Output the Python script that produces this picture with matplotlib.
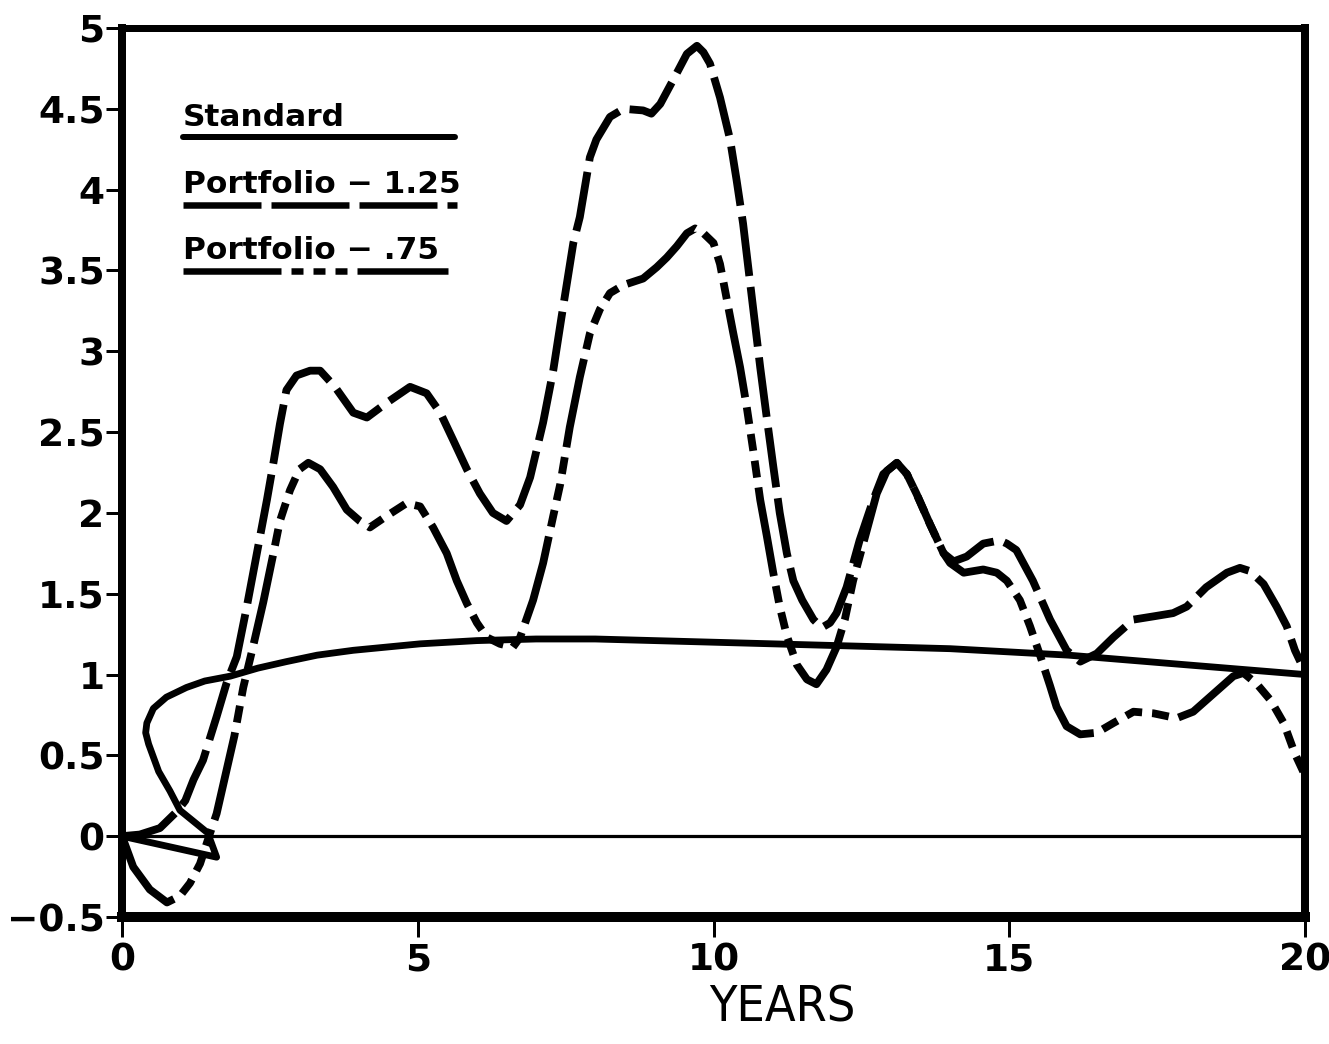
import numpy as np
import matplotlib
matplotlib.use("Agg")
import matplotlib.pyplot as plt
from matplotlib import font_manager

plt.rcParams['lines.scale_dashes'] = False

# ---------------- data ----------------
xticks = [0, 5, 10, 15, 20]
xtick_labels = ['0', '5', '10', '15', '20']
yticks = [-0.5, 0, 0.5, 1, 1.5, 2, 2.5, 3, 3.5, 4, 4.5, 5]
ytick_labels = ['\u22120.5', '0', '0.5', '1', '1.5', '2', '2.5', '3', '3.5', '4', '4.5', '5']

std_x = [0.0, 1.6, 1.45, 0.98, 0.81, 0.62, 0.53, 0.45, 0.40, 0.42, 0.53, 0.75,
         1.09, 1.4, 1.83, 2.3, 2.78, 3.3, 3.91, 5.04, 6.0, 7.0, 8.0, 9.0, 10.0,
         11.0, 12.0, 13.0, 14.0, 15.0, 16.0, 17.0, 18.0, 19.0, 20.0]
std_y = [0.0, -0.13, 0.02, 0.16, 0.28, 0.40, 0.49, 0.57, 0.64, 0.70, 0.79, 0.86,
         0.92, 0.96, 0.99, 1.04, 1.08, 1.12, 1.15, 1.19, 1.21, 1.22, 1.22, 1.21, 1.20,
         1.19, 1.18, 1.17, 1.16, 1.14, 1.12, 1.09, 1.06, 1.03, 1.00]

p125_x = [0.0, 0.3, 0.64, 0.92, 1.07, 1.21, 1.37, 1.6, 1.77, 1.94, 2.11, 2.28,
          2.45, 2.56, 2.67, 2.78, 2.95, 3.18, 3.35, 3.6, 3.91, 4.14, 4.47, 4.87,
          5.15, 5.38, 5.6, 5.83, 6.05, 6.27, 6.5, 6.73, 6.9, 7.12, 7.29, 7.43,
          7.63, 7.74, 7.91, 8.02, 8.25, 8.48, 8.81, 8.95, 9.1, 9.32, 9.55, 9.72,
          9.83, 9.94, 10.11, 10.28, 10.39, 10.5, 10.62, 10.79, 10.9, 11.01, 11.12,
          11.24, 11.35, 11.5, 11.69, 11.83, 11.97, 12.08, 12.25, 12.47, 12.7,
          12.87, 13.1, 13.27, 13.43, 13.66, 13.89, 14.06, 14.28, 14.56, 14.84,
          14.96, 15.12, 15.4, 15.69, 15.97, 16.2, 16.48, 16.76, 17.1, 17.44,
          17.77, 18.0, 18.33, 18.68, 18.9, 19.07, 19.3, 19.52, 19.69, 19.83, 19.92]
p125_y = [0.0, 0.01, 0.05, 0.15, 0.22, 0.35, 0.47, 0.74, 0.95, 1.11, 1.42, 1.75,
          2.08, 2.31, 2.55, 2.76, 2.85, 2.88, 2.88, 2.78, 2.62, 2.59, 2.68, 2.78,
          2.74, 2.62, 2.45, 2.27, 2.12, 2.0, 1.95, 2.05, 2.22, 2.56, 2.88, 3.21,
          3.67, 3.83, 4.2, 4.31, 4.45, 4.5, 4.49, 4.47, 4.53, 4.68, 4.84, 4.89,
          4.85, 4.78, 4.57, 4.31, 4.06, 3.79, 3.42, 2.9, 2.59, 2.29, 2.0,
          1.75, 1.58, 1.46, 1.34, 1.29, 1.32, 1.38, 1.54, 1.83, 2.08,
          2.24, 2.31, 2.24, 2.12, 1.93, 1.75, 1.70, 1.73, 1.81, 1.83,
          1.81, 1.77, 1.58, 1.34, 1.15, 1.08, 1.13, 1.23, 1.34, 1.36,
          1.38, 1.42, 1.54, 1.63, 1.66, 1.64, 1.56, 1.42, 1.30, 1.15, 1.08]

p075_x = [0.0, 0.19, 0.47, 0.76, 0.98, 1.15, 1.32, 1.49, 1.6, 1.75, 1.9, 2.05,
          2.22, 2.39, 2.56, 2.67, 2.84, 3.0, 3.15, 3.35, 3.57, 3.8, 4.02, 4.19,
          4.47, 4.81, 5.04, 5.26, 5.49, 5.66, 5.83, 6.0, 6.17, 6.39, 6.61, 6.73,
          6.95, 7.12, 7.29, 7.41, 7.57, 7.74, 7.91, 8.08, 8.25, 8.48, 8.81, 9.04,
          9.21, 9.38, 9.55, 9.69, 9.83, 10.0, 10.11, 10.22, 10.33, 10.45, 10.56,
          10.67, 10.79, 10.9, 11.01, 11.12, 11.24, 11.41, 11.58, 11.74, 11.91,
          12.08, 12.22, 12.36, 12.59, 12.76, 12.93, 13.1, 13.27, 13.43, 13.66,
          13.89, 14.0, 14.23, 14.56, 14.79, 14.96, 15.18, 15.35, 15.52, 15.69,
          15.8, 15.97, 16.2, 16.48, 16.76, 17.1, 17.44, 17.83, 18.11, 18.45,
          18.79, 18.96, 19.19, 19.42, 19.64, 19.83, 19.97]
p075_y = [0.0, -0.19, -0.33, -0.41, -0.37, -0.29, -0.17, 0.02, 0.14, 0.38, 0.62, 0.92,
          1.18, 1.45, 1.75, 1.95, 2.14, 2.27, 2.31, 2.27, 2.16, 2.02, 1.95, 1.91,
          1.98, 2.06, 2.04, 1.91, 1.75, 1.58, 1.44, 1.32, 1.23, 1.19, 1.17, 1.23,
          1.46, 1.69, 1.98, 2.18, 2.53, 2.84, 3.11, 3.26, 3.36, 3.41, 3.45, 3.52,
          3.58, 3.65, 3.73, 3.76, 3.73, 3.67, 3.54, 3.33, 3.12, 2.9, 2.66,
          2.39, 2.08, 1.86, 1.63, 1.42, 1.24, 1.06, 0.97, 0.94, 1.03,
          1.17, 1.34, 1.58, 1.89, 2.12, 2.26, 2.31, 2.24, 2.12, 1.93,
          1.75, 1.69, 1.63, 1.65, 1.63, 1.58, 1.46, 1.30, 1.12, 0.93,
          0.80, 0.68, 0.63, 0.64, 0.70, 0.77, 0.76, 0.73, 0.77, 0.88,
          0.99, 1.01, 0.94, 0.84, 0.70, 0.51, 0.40]

legend_labels = ['Standard', 'Portfolio \u2212 1.25', 'Portfolio \u2212 .75']
xlabel = 'YEARS'

# ---------------- styles ----------------
PX = 72.0 / 100.0  # points per pixel at dpi 100
dash125 = (0, (60 * PX, 11 * PX))
dash075 = (0, (90 * PX, 10 * PX, 17 * PX, 10 * PX, 17 * PX, 10 * PX, 17 * PX, 10 * PX))
lw_main = 7.8 * PX

fig = plt.figure(figsize=(13.29, 10.44), dpi=100)
L, R, T, B = 122, 1305, 28, 917
ax = fig.add_axes([L / 1329, 1 - B / 1044, (R - L) / 1329, (B - T) / 1044])
ax.set_xlim(0, 20)
ax.set_ylim(-0.5, 5)

ax.axhline(0, color='black', lw=3.2 * PX, zorder=2)

ax.plot(std_x, std_y, color='black', lw=6.8 * PX, solid_joinstyle='round',
        solid_capstyle='round', zorder=3)
ax.plot(p125_x, p125_y, color='black', lw=lw_main, linestyle=dash125,
        dash_capstyle='butt', dash_joinstyle='round', zorder=3)
ax.plot(p075_x, p075_y, color='black', lw=lw_main, linestyle=dash075,
        dash_capstyle='butt', dash_joinstyle='round', zorder=3)

# legend drawn as labelled samples in the upper left
tf = ax.transAxes
def fx(px):
    return (px - L) / (R - L)
def fy(py):
    return (B - py) / (B - T)

leg_font = dict(family='DejaVu Sans', fontweight='bold', fontsize=22.5, color='black')
ax.text(fx(183), fy(126), legend_labels[0], transform=tf, ha='left', va='baseline', **leg_font)
ax.text(fx(183), fy(193), legend_labels[1], transform=tf, ha='left', va='baseline', **leg_font)
ax.text(fx(183), fy(259), legend_labels[2], transform=tf, ha='left', va='baseline', **leg_font)
ax.plot([fx(183), fx(455)], [fy(137), fy(137)], transform=tf, color='black',
        lw=6 * PX, solid_capstyle='round', clip_on=False)
ax.plot([fx(183), fx(457)], [fy(205), fy(205)], transform=tf, color='black',
        lw=6.5 * PX, linestyle=(0, (78 * PX, 10 * PX)), dash_capstyle='butt', clip_on=False)
ax.plot([fx(183), fx(448)], [fy(271), fy(271)], transform=tf, color='black',
        lw=6.5 * PX, linestyle=(0, (98 * PX, 10 * PX, 12 * PX, 10 * PX, 12 * PX, 10 * PX, 12 * PX, 10 * PX)),
        dash_capstyle='butt', clip_on=False)

# axes frame and ticks
for side, w in (('left', 8), ('right', 8), ('top', 7), ('bottom', 10)):
    ax.spines[side].set_linewidth(w * PX)
    ax.spines[side].set_zorder(5)

ax.set_xticks(xticks)
ax.set_xticklabels(xtick_labels)
ax.set_yticks(yticks)
ax.set_yticklabels(ytick_labels)
ax.tick_params(axis='y', direction='out', length=16 * PX, width=3 * PX, pad=1,
               labelsize=27)
ax.tick_params(axis='x', direction='out', length=20 * PX, width=3 * PX, pad=4,
               labelsize=27)
for lab in ax.get_xticklabels() + ax.get_yticklabels():
    lab.set_fontweight('bold')
    lab.set_family('DejaVu Sans')

# narrow family for the axis title if one is installed
names = {f.name for f in font_manager.fontManager.ttflist}
if 'Liberation Sans Narrow' in names:
    xl_family, xl_stretch = ['Liberation Sans Narrow', 'DejaVu Sans'], 'normal'
else:
    xl_family, xl_stretch = ['DejaVu Sans'], 'condensed'
xl = fig.text(782 / 1329, 1 - 1007 / 1044, xlabel, ha='center', va='center',
              fontsize=40, family=xl_family, fontstretch=xl_stretch, color='black')
if 'Liberation Sans Narrow' not in names and 'DejaVu Sans Condensed' not in names:
    # horizontally compress the label to mimic the narrow lettering
    xl.set_fontsize(36)

fig.savefig('out.png', dpi=100, facecolor='white')
